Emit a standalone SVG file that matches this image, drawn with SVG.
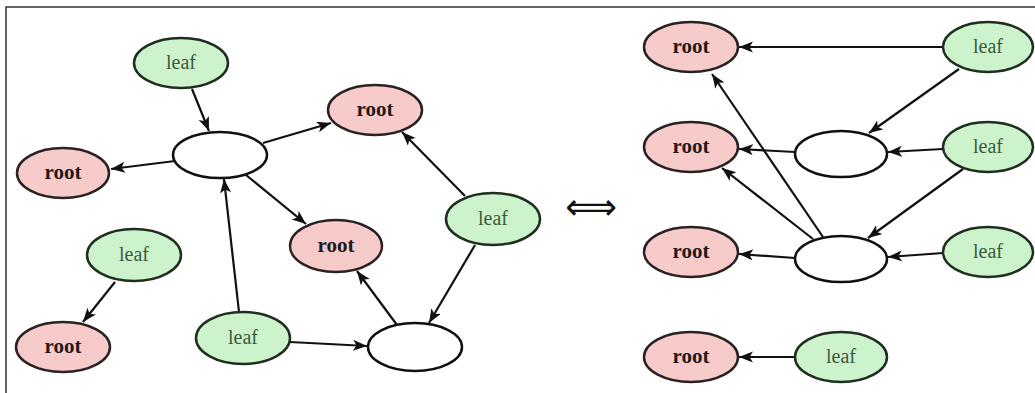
<svg xmlns="http://www.w3.org/2000/svg" width="1035" height="393" viewBox="0 0 1035 393">
<defs>
<marker id="ah" markerUnits="userSpaceOnUse" markerWidth="16" markerHeight="12" refX="14" refY="5.5" orient="auto">
<path d="M0,0 L14,5.5 L0,11 L3.5,5.5 z" fill="#111"/>
</marker>
<style>
.root ellipse{fill:#f8cbcb;stroke:#2a2222;stroke-width:2.5}
.leaf ellipse{fill:#cdf3cd;stroke:#1f2f1f;stroke-width:2.5}
.mid ellipse{fill:#ffffff;stroke:#111;stroke-width:2.5}
.root text{font-family:"Liberation Serif","Times New Roman",serif;font-weight:bold;font-size:21px;fill:#221a1a;text-anchor:middle}
.leaf text{font-family:"Liberation Serif","Times New Roman",serif;font-size:20px;fill:#3c5a3c;text-anchor:middle}
.edges line{stroke:#111;stroke-width:2.2;marker-end:url(#ah)}
</style>
</defs>
<rect width="1035" height="393" fill="#fff"/>
<path d="M6,393 L6,7 L1035,7" fill="none" stroke="#333" stroke-width="1.5"/>

<g id="edges" class="edges">
<line x1="192" y1="89" x2="209" y2="131"/>
<line x1="263" y1="143" x2="331" y2="123"/>
<line x1="175" y1="161" x2="111" y2="169"/>
<line x1="246" y1="175" x2="306" y2="224"/>
<line x1="239" y1="312" x2="224" y2="179"/>
<line x1="290" y1="342" x2="367" y2="346"/>
<line x1="397" y1="325" x2="357" y2="271"/>
<line x1="475" y1="245" x2="429" y2="323"/>
<line x1="465" y1="196" x2="402" y2="132"/>
<line x1="115" y1="282" x2="83" y2="322"/>
<line x1="943" y1="47" x2="739" y2="47"/>
<line x1="959" y1="69" x2="869" y2="133"/>
<line x1="795" y1="152" x2="739" y2="149"/>
<line x1="943" y1="149" x2="888" y2="152"/>
<line x1="963" y1="169" x2="868" y2="238"/>
<line x1="823" y1="237" x2="712" y2="74"/>
<line x1="813" y1="239" x2="722" y2="168"/>
<line x1="795" y1="258" x2="739" y2="254"/>
<line x1="943" y1="253" x2="888" y2="257"/>
<line x1="795" y1="357" x2="739" y2="357"/>
</g>

<g id="l-leaf1" class="leaf"><ellipse cx="181" cy="63" rx="47" ry="25"/><text x="181" y="69">leaf</text></g>
<g id="l-root1" class="root"><ellipse cx="375" cy="110" rx="47" ry="25"/><text x="375" y="116">root</text></g>
<g id="l-mid1" class="mid"><ellipse cx="220" cy="155" rx="47" ry="23"/></g>
<g id="l-root2" class="root"><ellipse cx="63" cy="173" rx="46" ry="25"/><text x="63" y="179">root</text></g>
<g id="l-leaf2" class="leaf"><ellipse cx="493" cy="219" rx="47" ry="26"/><text x="493" y="225">leaf</text></g>
<g id="l-root3" class="root"><ellipse cx="336" cy="246" rx="46" ry="26"/><text x="336" y="252">root</text></g>
<g id="l-leaf3" class="leaf"><ellipse cx="134" cy="255" rx="47" ry="26"/><text x="134" y="261">leaf</text></g>
<g id="l-root4" class="root"><ellipse cx="63" cy="347" rx="47" ry="25"/><text x="63" y="353">root</text></g>
<g id="l-leaf4" class="leaf"><ellipse cx="243" cy="338" rx="47" ry="26"/><text x="243" y="344">leaf</text></g>
<g id="l-mid2" class="mid"><ellipse cx="415" cy="347" rx="47" ry="24"/></g>

<text id="equiv" x="591" y="219" font-family="DejaVu Sans, sans-serif" font-size="36" text-anchor="middle" fill="#111">⟺</text>

<g id="r-root1" class="root"><ellipse cx="691" cy="47" rx="47" ry="25"/><text x="691" y="53">root</text></g>
<g id="r-leaf1" class="leaf"><ellipse cx="988" cy="47" rx="45" ry="25"/><text x="988" y="53">leaf</text></g>
<g id="r-root2" class="root"><ellipse cx="691" cy="147" rx="47" ry="25"/><text x="691" y="153">root</text></g>
<g id="r-mid1" class="mid"><ellipse cx="841" cy="154" rx="46" ry="23"/></g>
<g id="r-leaf2" class="leaf"><ellipse cx="988" cy="147" rx="45" ry="25"/><text x="988" y="153">leaf</text></g>
<g id="r-root3" class="root"><ellipse cx="691" cy="252" rx="47" ry="25"/><text x="691" y="258">root</text></g>
<g id="r-mid2" class="mid"><ellipse cx="841" cy="259" rx="46" ry="23"/></g>
<g id="r-leaf3" class="leaf"><ellipse cx="988" cy="252" rx="45" ry="25"/><text x="988" y="258">leaf</text></g>
<g id="r-root4" class="root"><ellipse cx="691" cy="357" rx="47" ry="25"/><text x="691" y="363">root</text></g>
<g id="r-leaf4" class="leaf"><ellipse cx="841" cy="357" rx="46" ry="25"/><text x="841" y="363">leaf</text></g>
</svg>
